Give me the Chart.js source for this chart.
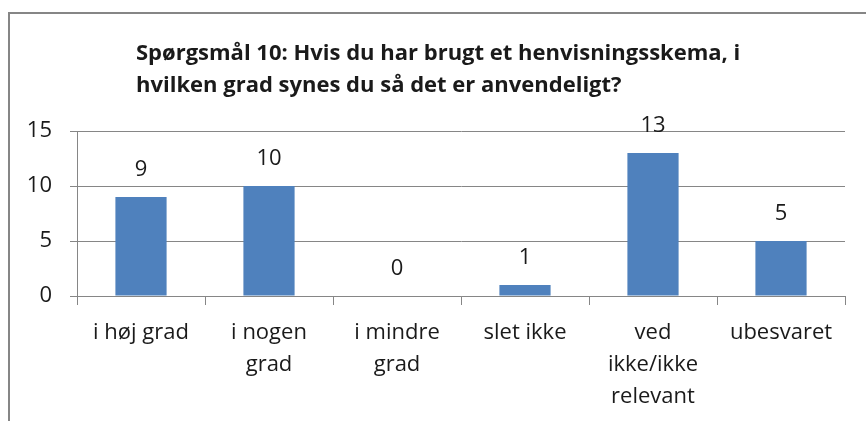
<!DOCTYPE html>
<html lang="da">
<head>
<meta charset="UTF-8">
<title>Spørgsmål 10</title>
<style>
  html, body { margin: 0; padding: 0; background: #fff; }
  #wrap { width: 866px; height: 421px; position: relative; }
</style>
</head>
<body>
<div id="wrap"><canvas id="myChart"></canvas></div>
<script src="https://cdn.jsdelivr.net/npm/chart.js"></script>
<script>
  // data
  const categories = [
    ['i høj grad'],
    ['i nogen', 'grad'],
    ['i mindre', 'grad'],
    ['slet ikke'],
    ['ved', 'ikke/ikke', 'relevant'],
    ['ubesvaret']
  ];
  const answers = [9, 10, 0, 1, 13, 5];
  const yTicks = [0, 5, 10, 15];
  const titleLines = [
    'Spørgsmål 10: Hvis du har brugt et henvisningsskema, i',
    'hvilken grad synes du så det er anvendeligt?'
  ];

  const FONT = '"Open Sans", "Noto Sans", sans-serif';
  const TEXT = '#1a1a1a';

  // frame + title (drawn by hand, like the spreadsheet export)
  const framePlugin = {
    id: 'frame',
    beforeDraw(chart) {
      const c = chart.ctx;
      c.save();
      c.fillStyle = '#fff';
      c.fillRect(0, 0, chart.width, chart.height);
      c.strokeStyle = '#868686';
      c.lineWidth = 2;
      c.beginPath();
      c.moveTo(9, chart.height);
      c.lineTo(9, 13);
      c.lineTo(chart.width, 13);
      c.stroke();
      c.fillStyle = TEXT;
      c.font = 'bold 22px ' + FONT;
      c.textAlign = 'left';
      c.textBaseline = 'alphabetic';
      titleLines.forEach((t, i) => c.fillText(t, 136, 60 + i * 32));
      c.restore();
    }
  };

  // value labels above the bars
  const valueLabels = {
    id: 'valueLabels',
    afterDatasetsDraw(chart) {
      const c = chart.ctx;
      const meta = chart.getDatasetMeta(0);
      c.save();
      c.fillStyle = TEXT;
      c.font = '22px ' + FONT;
      c.textAlign = 'center';
      c.textBaseline = 'middle';
      meta.data.forEach((bar, i) => {
        c.fillText(String(answers[i]), bar.x, bar.y - 27);
      });
      c.restore();
    }
  };

  new Chart(document.getElementById('myChart'), {
    type: 'bar',
    data: {
      labels: categories,
      datasets: [{
        label: 'Antal',
        data: answers,
        backgroundColor: '#4F81BD',
        categoryPercentage: 1,
        barPercentage: 0.4
      }]
    },
    plugins: [framePlugin, valueLabels],
    options: {
      responsive: true,
      maintainAspectRatio: false,
      animation: false,
      layout: { padding: { left: 8, top: 131, right: 21, bottom: 0 } },
      plugins: {
        legend: { display: false },
        title: { display: false },
        tooltip: { enabled: false }
      },
      scales: {
        x: {
          offset: true,
          grid: { drawOnChartArea: false, drawTicks: true, tickLength: 9, color: '#868686', offset: true },
          border: { color: '#868686' },
          ticks: { color: TEXT, font: { family: FONT, size: 22, lineHeight: 1.45 }, padding: 12, maxRotation: 0, autoSkip: false },
          afterFit(scale) { scale.height = 125; }
        },
        y: {
          min: 0,
          max: 15,
          afterBuildTicks(scale) { scale.ticks = yTicks.map(v => ({ value: v })); },
          grid: { color: '#868686', tickLength: 7 },
          border: { color: '#868686' },
          ticks: { color: TEXT, font: { family: FONT, size: 22 }, padding: 18 },
          afterFit(scale) { scale.width = 69; }
        }
      }
    }
  });
</script>
</body>
</html>
